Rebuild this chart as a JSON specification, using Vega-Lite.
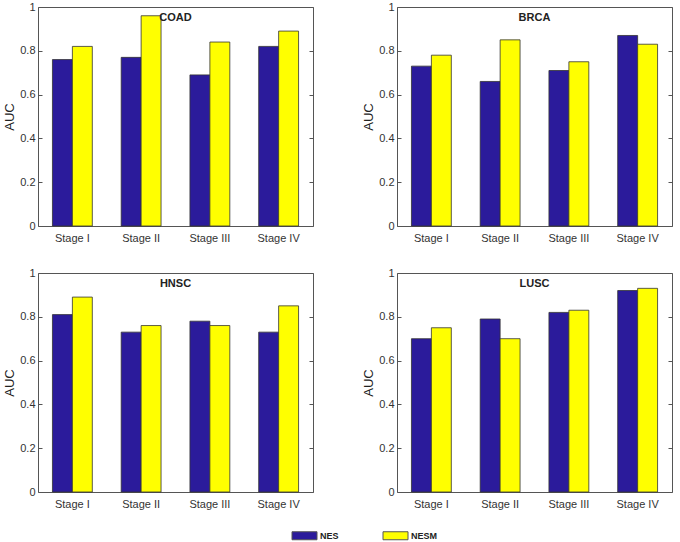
{
  "$schema": "https://vega.github.io/schema/vega-lite/v6.json",
  "padding": {"left": 3, "top": 0, "right": 4, "bottom": 3},
  "background": "white",
  "datasets": {
    "auc": [
      {"cancer": "COAD", "stage": "Stage I", "method": "NES", "auc": 0.76},
      {"cancer": "COAD", "stage": "Stage I", "method": "NESM", "auc": 0.82},
      {"cancer": "COAD", "stage": "Stage II", "method": "NES", "auc": 0.77},
      {"cancer": "COAD", "stage": "Stage II", "method": "NESM", "auc": 0.96},
      {"cancer": "COAD", "stage": "Stage III", "method": "NES", "auc": 0.69},
      {"cancer": "COAD", "stage": "Stage III", "method": "NESM", "auc": 0.84},
      {"cancer": "COAD", "stage": "Stage IV", "method": "NES", "auc": 0.82},
      {"cancer": "COAD", "stage": "Stage IV", "method": "NESM", "auc": 0.89},
      {"cancer": "BRCA", "stage": "Stage I", "method": "NES", "auc": 0.73},
      {"cancer": "BRCA", "stage": "Stage I", "method": "NESM", "auc": 0.78},
      {"cancer": "BRCA", "stage": "Stage II", "method": "NES", "auc": 0.66},
      {"cancer": "BRCA", "stage": "Stage II", "method": "NESM", "auc": 0.85},
      {"cancer": "BRCA", "stage": "Stage III", "method": "NES", "auc": 0.71},
      {"cancer": "BRCA", "stage": "Stage III", "method": "NESM", "auc": 0.75},
      {"cancer": "BRCA", "stage": "Stage IV", "method": "NES", "auc": 0.87},
      {"cancer": "BRCA", "stage": "Stage IV", "method": "NESM", "auc": 0.83},
      {"cancer": "HNSC", "stage": "Stage I", "method": "NES", "auc": 0.81},
      {"cancer": "HNSC", "stage": "Stage I", "method": "NESM", "auc": 0.89},
      {"cancer": "HNSC", "stage": "Stage II", "method": "NES", "auc": 0.73},
      {"cancer": "HNSC", "stage": "Stage II", "method": "NESM", "auc": 0.76},
      {"cancer": "HNSC", "stage": "Stage III", "method": "NES", "auc": 0.78},
      {"cancer": "HNSC", "stage": "Stage III", "method": "NESM", "auc": 0.76},
      {"cancer": "HNSC", "stage": "Stage IV", "method": "NES", "auc": 0.73},
      {"cancer": "HNSC", "stage": "Stage IV", "method": "NESM", "auc": 0.85},
      {"cancer": "LUSC", "stage": "Stage I", "method": "NES", "auc": 0.70},
      {"cancer": "LUSC", "stage": "Stage I", "method": "NESM", "auc": 0.75},
      {"cancer": "LUSC", "stage": "Stage II", "method": "NES", "auc": 0.79},
      {"cancer": "LUSC", "stage": "Stage II", "method": "NESM", "auc": 0.70},
      {"cancer": "LUSC", "stage": "Stage III", "method": "NES", "auc": 0.82},
      {"cancer": "LUSC", "stage": "Stage III", "method": "NESM", "auc": 0.83},
      {"cancer": "LUSC", "stage": "Stage IV", "method": "NES", "auc": 0.92},
      {"cancer": "LUSC", "stage": "Stage IV", "method": "NESM", "auc": 0.93}
    ]
  },
  "vconcat": [
    {
      "hconcat": [
        {
          "width": 275, "height": 219,
          "title": {"text": "COAD"},
          "data": {"name": "auc"},
          "transform": [{"filter": "datum.cancer === 'COAD'"}],
          "layer": [
            {
              "mark": {"type": "bar", "stroke": "#333333", "strokeWidth": 0.8},
              "encoding": {
                "x": {"field": "stage", "type": "nominal", "sort": ["Stage I", "Stage II", "Stage III", "Stage IV"], "scale": {"paddingInner": 0.42, "paddingOuter": 0.21}, "axis": {"title": null, "labelAngle": 0, "ticks": false, "domain": false}},
                "xOffset": {"field": "method", "type": "nominal", "sort": ["NES", "NESM"]},
                "y": {"field": "auc", "type": "quantitative", "scale": {"domain": [0, 1]}, "axis": {"title": "AUC", "values": [0, 0.2, 0.4, 0.6, 0.8, 1], "format": ".1~f"}},
                "color": {"field": "method", "type": "nominal", "scale": {"domain": ["NES", "NESM"], "range": ["#2b1b9b", "#ffff00"]}, "legend": {"title": null}}
              }
            },
            {
              "mark": {"type": "bar", "opacity": 0},
              "encoding": {
                "x": {"field": "stage", "type": "nominal", "sort": ["Stage I", "Stage II", "Stage III", "Stage IV"]},
                "xOffset": {"field": "method", "type": "nominal", "sort": ["NES", "NESM"]},
                "y": {"field": "auc", "type": "quantitative", "axis": {"orient": "right", "labels": false, "title": null, "values": [0, 0.2, 0.4, 0.6, 0.8, 1]}}
              }
            }
          ],
          "resolve": {"axis": {"y": "independent"}}
        },
        {
          "width": 275, "height": 219,
          "title": {"text": "BRCA"},
          "data": {"name": "auc"},
          "transform": [{"filter": "datum.cancer === 'BRCA'"}],
          "layer": [
            {
              "mark": {"type": "bar", "stroke": "#333333", "strokeWidth": 0.8},
              "encoding": {
                "x": {"field": "stage", "type": "nominal", "sort": ["Stage I", "Stage II", "Stage III", "Stage IV"], "scale": {"paddingInner": 0.42, "paddingOuter": 0.21}, "axis": {"title": null, "labelAngle": 0, "ticks": false, "domain": false}},
                "xOffset": {"field": "method", "type": "nominal", "sort": ["NES", "NESM"]},
                "y": {"field": "auc", "type": "quantitative", "scale": {"domain": [0, 1]}, "axis": {"title": "AUC", "values": [0, 0.2, 0.4, 0.6, 0.8, 1], "format": ".1~f"}},
                "color": {"field": "method", "type": "nominal", "scale": {"domain": ["NES", "NESM"], "range": ["#2b1b9b", "#ffff00"]}, "legend": {"title": null}}
              }
            },
            {
              "mark": {"type": "bar", "opacity": 0},
              "encoding": {
                "x": {"field": "stage", "type": "nominal", "sort": ["Stage I", "Stage II", "Stage III", "Stage IV"]},
                "xOffset": {"field": "method", "type": "nominal", "sort": ["NES", "NESM"]},
                "y": {"field": "auc", "type": "quantitative", "axis": {"orient": "right", "labels": false, "title": null, "values": [0, 0.2, 0.4, 0.6, 0.8, 1]}}
              }
            }
          ],
          "resolve": {"axis": {"y": "independent"}}
        }
      ]
    },
    {
      "hconcat": [
        {
          "width": 275, "height": 219,
          "title": {"text": "HNSC"},
          "data": {"name": "auc"},
          "transform": [{"filter": "datum.cancer === 'HNSC'"}],
          "layer": [
            {
              "mark": {"type": "bar", "stroke": "#333333", "strokeWidth": 0.8},
              "encoding": {
                "x": {"field": "stage", "type": "nominal", "sort": ["Stage I", "Stage II", "Stage III", "Stage IV"], "scale": {"paddingInner": 0.42, "paddingOuter": 0.21}, "axis": {"title": null, "labelAngle": 0, "ticks": false, "domain": false}},
                "xOffset": {"field": "method", "type": "nominal", "sort": ["NES", "NESM"]},
                "y": {"field": "auc", "type": "quantitative", "scale": {"domain": [0, 1]}, "axis": {"title": "AUC", "values": [0, 0.2, 0.4, 0.6, 0.8, 1], "format": ".1~f"}},
                "color": {"field": "method", "type": "nominal", "scale": {"domain": ["NES", "NESM"], "range": ["#2b1b9b", "#ffff00"]}, "legend": {"title": null}}
              }
            },
            {
              "mark": {"type": "bar", "opacity": 0},
              "encoding": {
                "x": {"field": "stage", "type": "nominal", "sort": ["Stage I", "Stage II", "Stage III", "Stage IV"]},
                "xOffset": {"field": "method", "type": "nominal", "sort": ["NES", "NESM"]},
                "y": {"field": "auc", "type": "quantitative", "axis": {"orient": "right", "labels": false, "title": null, "values": [0, 0.2, 0.4, 0.6, 0.8, 1]}}
              }
            }
          ],
          "resolve": {"axis": {"y": "independent"}}
        },
        {
          "width": 275, "height": 219,
          "title": {"text": "LUSC"},
          "data": {"name": "auc"},
          "transform": [{"filter": "datum.cancer === 'LUSC'"}],
          "layer": [
            {
              "mark": {"type": "bar", "stroke": "#333333", "strokeWidth": 0.8},
              "encoding": {
                "x": {"field": "stage", "type": "nominal", "sort": ["Stage I", "Stage II", "Stage III", "Stage IV"], "scale": {"paddingInner": 0.42, "paddingOuter": 0.21}, "axis": {"title": null, "labelAngle": 0, "ticks": false, "domain": false}},
                "xOffset": {"field": "method", "type": "nominal", "sort": ["NES", "NESM"]},
                "y": {"field": "auc", "type": "quantitative", "scale": {"domain": [0, 1]}, "axis": {"title": "AUC", "values": [0, 0.2, 0.4, 0.6, 0.8, 1], "format": ".1~f"}},
                "color": {"field": "method", "type": "nominal", "scale": {"domain": ["NES", "NESM"], "range": ["#2b1b9b", "#ffff00"]}, "legend": {"title": null}}
              }
            },
            {
              "mark": {"type": "bar", "opacity": 0},
              "encoding": {
                "x": {"field": "stage", "type": "nominal", "sort": ["Stage I", "Stage II", "Stage III", "Stage IV"]},
                "xOffset": {"field": "method", "type": "nominal", "sort": ["NES", "NESM"]},
                "y": {"field": "auc", "type": "quantitative", "axis": {"orient": "right", "labels": false, "title": null, "values": [0, 0.2, 0.4, 0.6, 0.8, 1]}}
              }
            }
          ],
          "resolve": {"axis": {"y": "independent"}}
        }
      ]
    }
  ],
  "spacing": 22,
  "config": {
    "font": "Liberation Sans",
    "view": {"stroke": "#555555", "strokeWidth": 1},
    "concat": {"spacing": 48},
    "scale": {"offsetBandPaddingInner": 0},
    "title": {"offset": -22, "fontSize": 11, "fontWeight": "bold", "color": "#222222", "anchor": "middle", "frame": "group"},
    "axis": {"grid": false, "labelFont": "Liberation Sans", "labelFontSize": 11, "labelColor": "#333333", "titleFont": "Liberation Sans", "titleFontSize": 13, "titleFontWeight": "normal", "titleColor": "#222222", "tickColor": "#555555", "domain": false},
    "axisY": {"tickSize": -4, "labelPadding": 7, "titlePadding": 3},
    "axisX": {"labelPadding": 6},
    "legend": {"orient": "none", "legendX": 261, "legendY": 523, "direction": "horizontal", "symbolType": "M-2.5,-0.8H2.5V0.8H-2.5Z", "symbolSize": 100, "symbolStrokeColor": "#555555", "symbolStrokeWidth": 1, "labelFontSize": 9, "labelFontWeight": "bold", "labelColor": "#222222", "labelOffset": 10, "columnPadding": 42}
  }
}
